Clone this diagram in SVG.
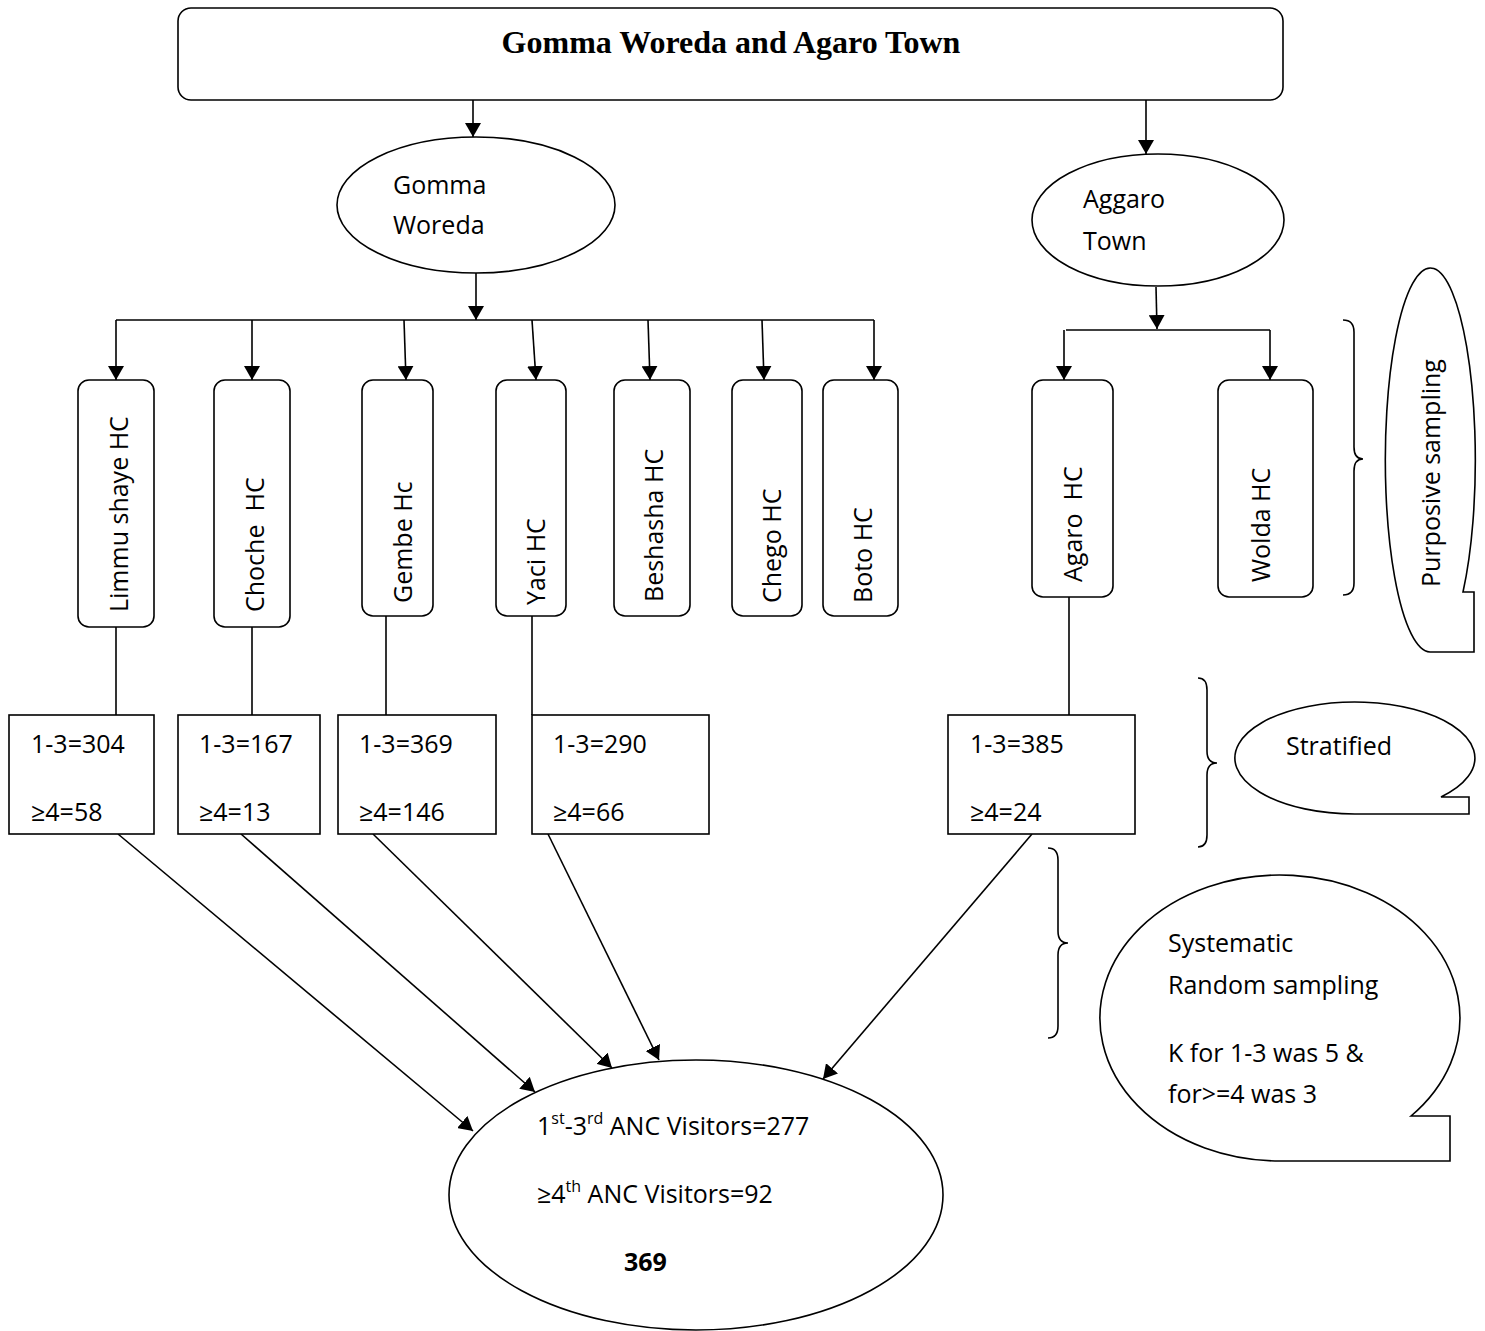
<svg xmlns="http://www.w3.org/2000/svg" width="1485" height="1331" viewBox="0 0 1485 1331">
<style>
.s{fill:#fff;stroke:#000;stroke-width:1.6}
.c{fill:none;stroke:#000;stroke-width:1.6}
.t{font-family:"Open Sans","Noto Sans",sans-serif;font-size:25px;fill:#000}
.ttl{font-family:"Liberation Serif","Times New Roman",serif;font-size:32px;font-weight:bold;fill:#000}
</style>
<defs>
<marker id="ah" viewBox="0 0 14 16" refX="14" refY="8" markerWidth="14" markerHeight="16" markerUnits="userSpaceOnUse" orient="auto">
<path d="M0,0 L14,8 L0,16 Z" fill="#000"/>
</marker>
</defs>
<rect width="1485" height="1331" fill="#fff"/>

<g id="connectors" class="c">
<line x1="473" y1="100" x2="473" y2="137" marker-end="url(#ah)"/>
<line x1="1146" y1="100" x2="1146" y2="154" marker-end="url(#ah)"/>
<line x1="476" y1="272" x2="476" y2="320" marker-end="url(#ah)"/>
<polyline points="116,320 874,320"/>
<line x1="116" y1="320" x2="116" y2="380" marker-end="url(#ah)"/>
<line x1="252" y1="320" x2="252" y2="380" marker-end="url(#ah)"/>
<line x1="404" y1="320" x2="406" y2="380" marker-end="url(#ah)"/>
<line x1="532" y1="320" x2="536" y2="380" marker-end="url(#ah)"/>
<line x1="648" y1="320" x2="650" y2="380" marker-end="url(#ah)"/>
<line x1="762" y1="320" x2="764" y2="380" marker-end="url(#ah)"/>
<line x1="874" y1="320" x2="874" y2="380" marker-end="url(#ah)"/>
<line x1="1156" y1="287" x2="1157" y2="329" marker-end="url(#ah)"/>
<polyline points="1066,330 1270,330"/>
<line x1="1064" y1="330" x2="1064" y2="380" marker-end="url(#ah)"/>
<line x1="1270" y1="330" x2="1270" y2="380" marker-end="url(#ah)"/>
<line x1="116" y1="627" x2="116" y2="715"/>
<line x1="252" y1="627" x2="252" y2="715"/>
<line x1="386" y1="616" x2="386" y2="715"/>
<line x1="532" y1="616" x2="532" y2="715"/>
<line x1="1069" y1="597" x2="1069" y2="715"/>
<line x1="118" y1="834" x2="473" y2="1131" marker-end="url(#ah)"/>
<line x1="241" y1="834" x2="535" y2="1092" marker-end="url(#ah)"/>
<line x1="373" y1="834" x2="612" y2="1068" marker-end="url(#ah)"/>
<line x1="548" y1="834" x2="659" y2="1060" marker-end="url(#ah)"/>
<line x1="1032" y1="834" x2="823" y2="1079" marker-end="url(#ah)"/>
</g>

<g id="top">
<rect class="s" x="178" y="8" width="1105" height="92" rx="13"/>
<text class="ttl" x="731" y="53" text-anchor="middle">Gomma Woreda and Agaro Town</text>
</g>

<g id="gomma-woreda">
<ellipse class="s" cx="476" cy="205" rx="139" ry="68"/>
<text class="t" x="393" y="194">Gomma</text>
<text class="t" x="393" y="234">Woreda</text>
</g>

<g id="aggaro-town">
<ellipse class="s" cx="1158" cy="220" rx="126" ry="66"/>
<text class="t" x="1083" y="208">Aggaro</text>
<text class="t" x="1083" y="250">Town</text>
</g>

<g id="limmu">
<rect class="s" x="78" y="380" width="76" height="247" rx="11"/>
<text class="t" transform="translate(128,612) rotate(-90)">Limmu shaye HC</text>
</g>
<g id="choche">
<rect class="s" x="214" y="380" width="76" height="247" rx="11"/>
<text class="t" transform="translate(264,612) rotate(-90)" xml:space="preserve">Choche  HC</text>
</g>
<g id="gembe">
<rect class="s" x="362" y="380" width="71" height="236" rx="11"/>
<text class="t" transform="translate(412,603) rotate(-90)">Gembe Hc</text>
</g>
<g id="yaci">
<rect class="s" x="496" y="380" width="70" height="236" rx="11"/>
<text class="t" transform="translate(545,605) rotate(-90)">Yaci HC</text>
</g>
<g id="beshasha">
<rect class="s" x="614" y="380" width="76" height="236" rx="11"/>
<text class="t" transform="translate(663,602) rotate(-90)">Beshasha HC</text>
</g>
<g id="chego">
<rect class="s" x="732" y="380" width="70" height="236" rx="11"/>
<text class="t" transform="translate(781,603) rotate(-90)">Chego HC</text>
</g>
<g id="boto">
<rect class="s" x="823" y="380" width="75" height="236" rx="11"/>
<text class="t" transform="translate(872,603) rotate(-90)">Boto HC</text>
</g>
<g id="agaro-hc">
<rect class="s" x="1032" y="380" width="81" height="217" rx="11"/>
<text class="t" transform="translate(1082,582) rotate(-90)" xml:space="preserve">Agaro  HC</text>
</g>
<g id="wolda-hc">
<rect class="s" x="1218" y="380" width="95" height="217" rx="11"/>
<text class="t" transform="translate(1270,582) rotate(-90)">Wolda HC</text>
</g>

<g id="count-limmu">
<rect class="s" x="9" y="715" width="145" height="119"/>
<text class="t" x="31" y="753">1-3=304</text>
<text class="t" x="31" y="821">≥4=58</text>
</g>
<g id="count-choche">
<rect class="s" x="178" y="715" width="142" height="119"/>
<text class="t" x="199" y="753">1-3=167</text>
<text class="t" x="199" y="821">≥4=13</text>
</g>
<g id="count-gembe">
<rect class="s" x="338" y="715" width="158" height="119"/>
<text class="t" x="359" y="753">1-3=369</text>
<text class="t" x="359" y="821">≥4=146</text>
</g>
<g id="count-yaci">
<rect class="s" x="532" y="715" width="177" height="119"/>
<text class="t" x="553" y="753">1-3=290</text>
<text class="t" x="553" y="821">≥4=66</text>
</g>
<g id="count-agaro">
<rect class="s" x="948" y="715" width="187" height="119"/>
<text class="t" x="970" y="753">1-3=385</text>
<text class="t" x="970" y="821">≥4=24</text>
</g>

<g id="total">
<ellipse class="s" cx="696" cy="1195" rx="247" ry="135"/>
<text class="t" x="537" y="1135">1<tspan dy="-11" font-size="16">st</tspan><tspan dy="11">-3</tspan><tspan dy="-11" font-size="16">rd</tspan><tspan dy="11"> ANC Visitors=277</tspan></text>
<text class="t" x="537" y="1203">≥4<tspan dy="-11" font-size="16">th</tspan><tspan dy="11"> ANC Visitors=92</tspan></text>
<text class="t" x="624" y="1271" font-weight="bold">369</text>
</g>

<g id="braces" class="c">
<path d="M1343,320 Q1354,320 1354,332 L1354,447 Q1354,459 1363,459 Q1354,459 1354,471 L1354,583 Q1354,595 1343,595"/>
<path d="M1198,678 Q1207,678 1207,690 L1207,751 Q1207,763 1217,763 Q1207,763 1207,775 L1207,835 Q1207,847 1198,847"/>
<path d="M1048,848 Q1058,848 1058,860 L1058,931 Q1058,943 1068,943 Q1058,943 1058,955 L1058,1026 Q1058,1038 1048,1038"/>
</g>

<g id="purposive-sampling">
<path class="s" d="M1430,652 L1474,652 L1474,592 L1463,592 A45,192 0 1 0 1430,652 Z"/>
<text class="t" transform="translate(1440,587) rotate(-90)">Purposive sampling</text>
</g>

<g id="stratified">
<path class="s" d="M1355,814 L1469,814 L1469,797 L1441,797 A120,56 0 1 0 1355,814 Z"/>
<text class="t" x="1286" y="755">Stratified</text>
</g>

<g id="systematic">
<path class="s" d="M1280,1161 L1450,1161 L1450,1116 L1411,1116 A180,143 0 1 0 1280,1161 Z"/>
<text class="t" x="1168" y="952">Systematic</text>
<text class="t" x="1168" y="994">Random sampling</text>
<text class="t" x="1168" y="1062">K for 1-3 was 5 &amp;</text>
<text class="t" x="1168" y="1103">for&gt;=4 was 3</text>
</g>
</svg>
